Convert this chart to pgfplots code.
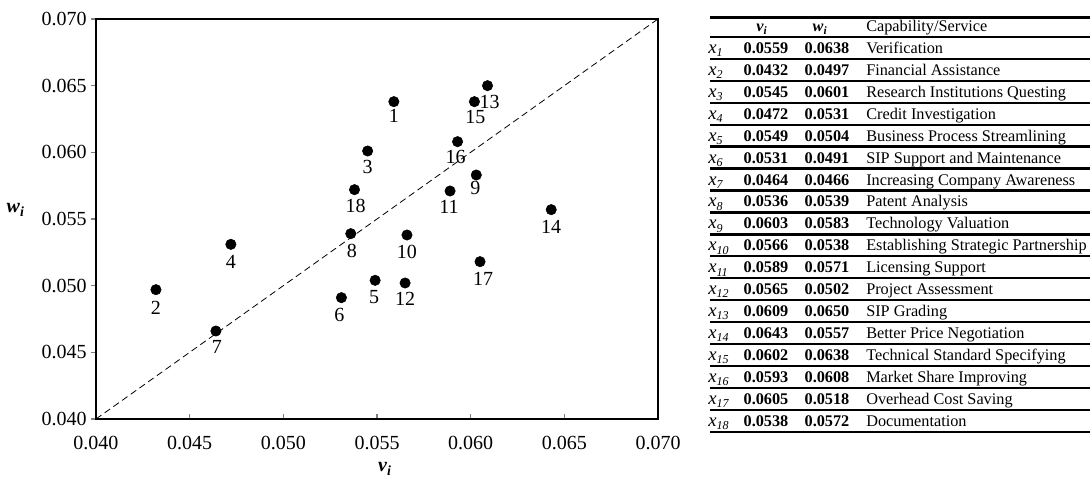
\documentclass[border=0pt]{standalone}
\usepackage{pgfplots}
\pgfplotsset{compat=1.18}
\usepackage{fontspec}
\setmainfont{Liberation Serif}

\begin{document}
\begin{tikzpicture}
\useasboundingbox (-72pt,-51.75pt) rectangle (747pt,314.25pt);
\begin{axis}[
  at={(0,0)}, anchor=south west,
  scale only axis, width=421.5pt, height=300pt,
  xmin=0.04, xmax=0.07, ymin=0.04, ymax=0.07,
  xtick={0.040,0.045,0.050,0.055,0.060,0.065,0.070},
  ytick={0.040,0.045,0.050,0.055,0.060,0.065,0.070},
  scaled ticks=false,
  tick pos=left,
  tick align=inside,
  major tick length=3.75pt,
  ytick style={xshift=-3.75pt, line width=0.8pt},
  xtick style={line width=0.8pt},
  axis line style={line width=1pt},
  /pgf/number format/assume math mode=true,
  xticklabel={\pgfmathprintnumber[fixed,fixed zerofill,precision=3]{\tick}},
  yticklabel={\pgfmathprintnumber[fixed,fixed zerofill,precision=3]{\tick}},
  ticklabel style={font=\fontsize{15}{17}\selectfont},
  xticklabel style={yshift=-9pt},
  yticklabel style={xshift=-3.5pt},
  xlabel={\bfseries\itshape v\textsubscript{i}},
  ylabel={\bfseries\itshape w\textsubscript{i}},
  xlabel style={at={(axis description cs:0.514,0)}, anchor=base, yshift=-39.75pt, font=\fontsize{15}{17}\selectfont},
  ylabel style={rotate=-90, at={(axis description cs:0,0.515)}, anchor=base west, xshift=-70.5pt, font=\fontsize{15}{17}\selectfont},
]
\addplot[black, line width=0.6pt, dash pattern=on 5pt off 3pt] coordinates {(0.04,0.04) (0.07,0.07)};
\addplot[only marks, mark=*, mark size=3.9pt, black,
  point meta=explicit symbolic,
  visualization depends on={\thisrow{dx}\as\dx},
  visualization depends on={\thisrow{dy}\as\dy},
  nodes near coords,
  nodes near coords style={anchor=center, inner sep=0pt, xshift={\dx*0.75pt}, yshift={-\dy*0.75pt}, font=\fontsize{15}{17}\selectfont, black}
] table[meta=lab] {
x y lab dx dy
0.0559 0.0638 1 0 14
0.0432 0.0497 2 0 18
0.0545 0.0601 3 0 16
0.0472 0.0531 4 0 18
0.0549 0.0504 5 -1 17
0.0531 0.0491 6 -2 17
0.0464 0.0466 7 1 16
0.0536 0.0539 8 1 17
0.0603 0.0583 9 -1 13
0.0566 0.0538 10 0 17
0.0589 0.0571 11 -1 16
0.0565 0.0502 12 0 16
0.0609 0.0650 13 2 16
0.0643 0.0557 14 0 17
0.0602 0.0638 15 1 15
0.0593 0.0608 16 -2 15
0.0605 0.0518 17 3 17
0.0538 0.0572 18 1 16
};
\end{axis}
\begin{scope}[shift={(-72pt,314.25pt)}, x=0.75pt, y=-0.75pt, every node/.style={font=\fontsize{12.2}{14}\selectfont, inner sep=0pt}]
  \draw[line width=1.8pt] (710,17.7) -- (1090,17.7);
  \draw[line width=1.8pt] (710,37) -- (1090,37);
  \node[anchor=base] at (762,32) {\bfseries\itshape v\textsubscript{i}};
  \node[anchor=base] at (820,32) {\bfseries\itshape w\textsubscript{i}};
  \node[anchor=base west] at (866,32) {Capability/Service};
  \foreach \i/\v/\w/\d [count=\n] in {
    1/0.0559/0.0638/Verification,
    2/0.0432/0.0497/Financial Assistance,
    3/0.0545/0.0601/Research Institutions Questing,
    4/0.0472/0.0531/Credit Investigation,
    5/0.0549/0.0504/Business Process Streamlining,
    6/0.0531/0.0491/SIP Support and Maintenance,
    7/0.0464/0.0466/Increasing Company Awareness,
    8/0.0536/0.0539/Patent Analysis,
    9/0.0603/0.0583/Technology Valuation,
    10/0.0566/0.0538/Establishing Strategic Partnership,
    11/0.0589/0.0571/Licensing Support,
    12/0.0565/0.0502/Project Assessment,
    13/0.0609/0.0650/SIP Grading,
    14/0.0643/0.0557/Better Price Negotiation,
    15/0.0602/0.0638/Technical Standard Specifying,
    16/0.0593/0.0608/Market Share Improving,
    17/0.0605/0.0518/Overhead Cost Saving,
    18/0.0538/0.0572/Documentation} {
    \pgfmathsetmacro\yb{37+21.93*\n-5.5}
    \node[anchor=base west] at (708,\yb) {\fontsize{14}{14}\selectfont\itshape x{\fontsize{9}{9}\selectfont\raisebox{-2.5pt}{\itshape\i}}};
    \node[anchor=base] at (766,\yb) {\bfseries \v};
    \node[anchor=base] at (827,\yb) {\bfseries \w};
    \node[anchor=base west] at (866,\yb) {\d};
    \draw[line width=1.8pt] (710,\yb+5.5) -- (1090,\yb+5.5);
  }
\end{scope}
\end{tikzpicture}
\end{document}
